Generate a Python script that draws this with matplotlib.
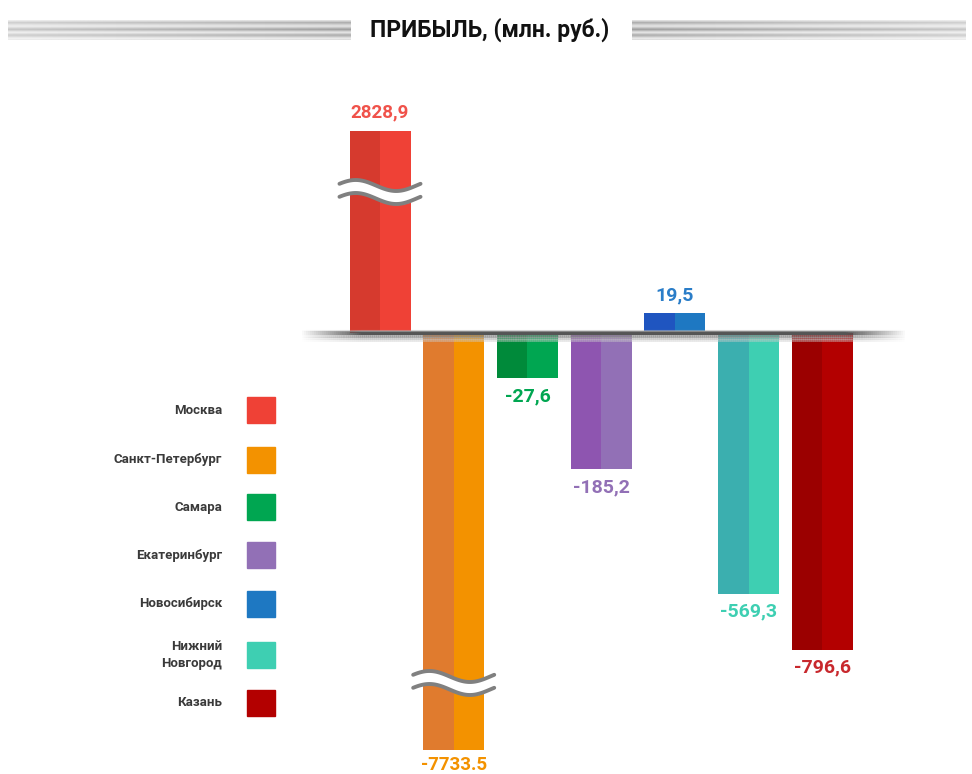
"""
Profit by city, infographic style bar chart with broken bars.
"""
import numpy as np
import matplotlib
matplotlib.use("Agg")
from matplotlib import pyplot as plt
from matplotlib.collections import LineCollection
from matplotlib.patches import Rectangle

cities = ["Москва", "Санкт-Петербург", "Самара", "Екатеринбург",
          "Новосибирск", "Нижний\nНовгород", "Казань"]
profit = [2828.9, -7733.5, -27.6, -185.2, 19.5, -569.3, -796.6]
value_labels = ["2828,9", "-7733.5", "-27,6", "-185,2", "19,5", "-569,3", "-796,6"]
dark_colors = ["#D63A2E", "#E07B2E", "#008A3A", "#8E55B0", "#1F55C0", "#3BAFAF", "#9B0000"]
light_colors = ["#EF4136", "#F39200", "#00A651", "#9270B6", "#1E78C2", "#3ECFB2", "#B30000"]
label_colors = ["#F0524A", "#F39200", "#00A651", "#9270B6", "#2A7DC8", "#3ECFB2", "#C8282D"]
broken = [True, True, False, False, False, False, False]

plt.rcParams["font.family"] = ["Roboto", "DejaVu Sans"]

# the picture is not to scale: squeeze values with a (one-sided) power scale
# and a log tail below -800 so the big losses still fit
P_POS, C_POS = 0.465, 5.02
P_NEG, C_NEG = 0.58, 6.58
T = 800.0
G_T = C_NEG * T ** P_NEG
K = 43.6


def fwd(y):
    y = np.asarray(y, dtype=float)
    a = np.abs(y)
    pos = C_POS * a ** P_POS
    small = C_NEG * a ** P_NEG
    big = G_T + K * np.log(np.maximum(a, T) / T)
    return np.where(y >= 0, pos, -np.where(a <= T, small, big))


def inv(u):
    u = np.asarray(u, dtype=float)
    b = np.abs(u)
    pos = (b / C_POS) ** (1 / P_POS)
    small = (b / C_NEG) ** (1 / P_NEG)
    big = T * np.exp((np.clip(b, G_T, 2000) - G_T) / K)
    return np.where(u >= 0, pos, -np.where(b <= G_T, small, big))


W, H = 972, 774
fig = plt.figure(figsize=(W / 100, H / 100), dpi=100)

# axes: 300..905 px wide, 100..760 px tall, 1 scaled unit = 1 px
ax_top, ax_bot = 100, 760
above, below = 233, 427
ax = fig.add_axes([300 / W, (H - ax_bot) / H, 605 / W, (ax_bot - ax_top) / H])
ax.set_yscale("function", functions=(fwd, inv))
ax.set_ylim(float(inv(-below)), float(inv(above)))
step = 73.7
ax.set_xlim((300 - 380) / step, (905 - 380) / step)
ax.axis("off")

x = np.arange(len(cities))
width = 61 / step
ax.bar(x - width / 4, profit, width / 2, color=dark_colors, zorder=2)
ax.bar(x + width / 4, profit, width / 2, color=light_colors, zorder=2)

for xi, v, lab, c, br in zip(x, profit, value_labels, label_colors, broken):
    off = 18 if v > 0 else (-15 if br else -18)
    ax.annotate(lab, (xi, v), xytext=(0, off), textcoords="offset pixels",
                ha="center", va="center", fontsize=13.5 if br else 14,
                fontweight="bold", color=c)

# break marks on the two bars that are cut
px = 1 / (ax_bot - ax_top)
trans = ax.get_xaxis_transform()
for xi, v, br in zip(x, profit, broken):
    if not br:
        continue
    yc = (ax_bot - (192 if v > 0 else 683)) * px
    t = np.linspace(0, 1, 120)
    xs = xi - 0.55 + 1.1 * t
    wave = 5.5 * px * np.sin(2 * np.pi * (t + 0.05))
    upper = yc + 6.5 * px + wave
    lower = yc - 6.5 * px + wave
    ax.fill_between(xs, lower, upper, color="white", transform=trans, zorder=3)
    ax.plot(xs, upper, color="#808080", lw=2.8, transform=trans, zorder=4,
            solid_capstyle="round")
    ax.plot(xs, lower, color="#808080", lw=2.8, transform=trans, zorder=4,
            solid_capstyle="round")

# baseline with a soft shadow, fading at both ends
base = below * px
xf = np.linspace(0, 1, 300)
fade = np.clip(np.minimum(xf, 1 - xf) / 0.1, 0, 1)
layers = [(0.0, "#555555", 1.0, 3), (-2.5, "#888888", 0.8, 2), (-4.5, "#aaaaaa", 0.6, 2),
          (-6.5, "#cccccc", 0.5, 2), (2.0, "#bbbbbb", 0.5, 1.5)]
for dy, col, a, lw in layers:
    segs = [[(xf[i], base + dy * px), (xf[i + 1], base + dy * px)] for i in range(len(xf) - 1)]
    rgba = np.array([matplotlib.colors.to_rgba(col)] * (len(xf) - 1))
    rgba[:, 3] = a * fade[:-1]
    ax.add_collection(LineCollection(segs, colors=rgba, linewidths=lw,
                                     transform=ax.transAxes, zorder=5))

# legend at the left
rows = [410, 460, 507, 555, 604, 655, 703]
for name, col, yr in zip(cities, light_colors, rows):
    fig.text(222 / W, (H - yr) / H, name, ha="right", va="center", fontsize=9.5,
             fontweight="bold", color="#3a3a3a", linespacing=1.5)
    fig.patches.append(Rectangle((247 / W, (H - yr - 13) / H), 28 / W, 26 / H,
                                 transform=fig.transFigure, color=col, figure=fig))

# title with striped bands
fig.text(490 / W, (H - 30) / H, "ПРИБЫЛЬ, (млн. руб.)", ha="center", va="center",
         fontsize=16.5, fontweight="bold", color="#111111")
stripes = np.array([0.88, 0.8, 0.7, 0.78, 0.86, 0.9, 0.82, 0.72, 0.66, 0.75,
                    0.85, 0.9, 0.8, 0.7, 0.76, 0.86, 0.92, 0.88])
grad = np.linspace(1.0, 0.72, 200)
band = np.clip(1 - (1 - stripes[:, None]) * (1.4 - grad[None, :]) * 1.6, 0, 1)
ax_l = fig.add_axes([8 / W, (H - 40) / H, 342 / W, 20 / H])
ax_l.imshow(band, cmap="gray", vmin=0, vmax=1, aspect="auto")
ax_l.axis("off")
ax_r = fig.add_axes([632 / W, (H - 40) / H, 334 / W, 20 / H])
ax_r.imshow(band[:, ::-1], cmap="gray", vmin=0, vmax=1, aspect="auto")
ax_r.axis("off")

plt.savefig("out.png", dpi=100)
